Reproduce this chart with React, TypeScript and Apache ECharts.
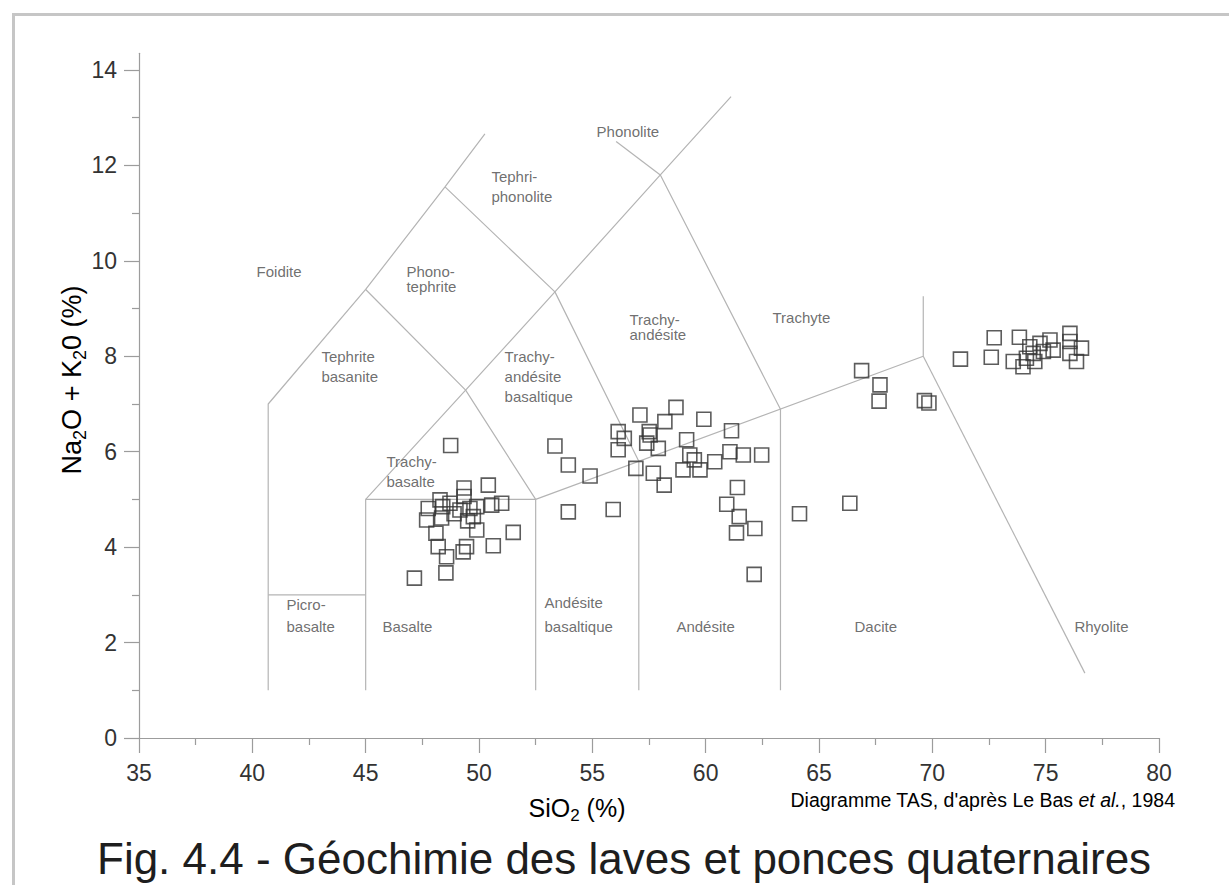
import React, { useEffect, useRef } from "react";
import * as echarts from "echarts";

const FONT = "'Liberation Sans', Arial, Helvetica, sans-serif";

// Axis ticks
const xMin = 35;
const xMax = 80;
const xInterval = 5;
const yMin = 0;
const yMax = 14.35;
const yMajorTicks = [0, 2, 4, 6, 8, 10, 12, 14];
const yMinorTicks = [1, 3, 5, 7, 9, 11, 13];

// Samples (SiO2 %, Na2O + K2O %)
const basaltSamples: [number, number][] = [
  [48.75, 6.13], [47.15, 3.35], [48.54, 3.46], [50.41, 5.3], [51.51, 4.31],
  [50.63, 4.03], [50.56, 4.88], [51.0, 4.92], [49.34, 5.24], [49.34, 5.06],
  [48.28, 4.99], [47.76, 4.81], [47.69, 4.57], [48.35, 4.61], [48.1, 4.29],
  [48.2, 4.01], [48.57, 3.8], [49.45, 4.01], [49.3, 3.9], [49.75, 4.64],
  [49.9, 4.36], [49.6, 4.81], [48.72, 4.92], [49.16, 4.78], [49.9, 4.85],
  [48.4, 4.85], [48.9, 4.7], [49.5, 4.55],
];
const andesiteSamples: [number, number][] = [
  [53.35, 6.12], [53.94, 5.72], [54.9, 5.49], [53.94, 4.74], [55.92, 4.79],
  [56.14, 6.42], [56.14, 6.04], [56.41, 6.28], [57.1, 6.77], [58.2, 6.63],
  [58.69, 6.93], [59.92, 6.68], [57.51, 6.42], [57.4, 6.18], [57.91, 6.07],
  [56.92, 5.65], [57.69, 5.55], [58.17, 5.3], [59.16, 6.25], [59.3, 5.93],
  [59.5, 5.83], [59.0, 5.62], [59.75, 5.62], [60.4, 5.79], [61.07, 6.0],
  [61.14, 6.44], [61.66, 5.93], [62.47, 5.93], [61.4, 5.25], [60.93, 4.9],
  [61.48, 4.64], [61.36, 4.3], [62.17, 4.39], [62.14, 3.43], [64.14, 4.7],
  [57.55, 6.35],
];
const daciteRhyoliteSamples: [number, number][] = [
  [66.36, 4.92], [66.88, 7.7], [67.69, 7.4], [67.65, 7.06], [69.65, 7.07],
  [69.85, 7.02], [71.24, 7.94], [72.6, 7.98], [72.73, 8.39], [73.57, 7.89],
  [73.84, 8.4], [74.0, 7.78], [74.3, 8.2], [74.45, 8.06], [74.75, 8.27],
  [74.9, 8.1], [75.19, 8.34], [75.33, 8.13], [76.07, 8.48], [76.07, 8.31],
  [76.07, 8.06], [76.58, 8.17], [76.36, 7.89], [74.15, 7.96], [74.52, 7.89],
];

// TAS field boundaries (as drawn in the figure)
const boundaryLines: [number, number][][] = [
  [[40.7, 1], [40.7, 7], [45, 9.4], [48.5, 11.55], [50.26, 12.66]],
  [[40.7, 3], [45, 3]],
  [[45, 1], [45, 5], [52.5, 5], [69.6, 8], [69.6, 9.26]],
  [[69.6, 8], [76.73, 1.36]],
  [[45, 5], [49.41, 7.29], [53.35, 9.35], [58, 11.8], [61.12, 13.44]],
  [[45, 9.4], [49.41, 7.29], [52.5, 5]],
  [[48.5, 11.55], [53.35, 9.35], [57.05, 5.8]],
  [[52.5, 1], [52.5, 5]],
  [[57.05, 1], [57.05, 5.8]],
  [[63.3, 1], [63.3, 6.89], [58, 11.8]],
  [[56.05, 12.5], [58, 11.8]],
];

// Field names: [text, SiO2, alkali, lineHeight]
const fieldLabels: [string, number, number, number][] = [
  ["Foidite", 40.21, 9.77, 15],
  ["Phono-\ntephrite", 46.82, 9.61, 15],
  ["Tephrite\nbasanite", 43.07, 7.78, 20],
  ["Trachy-\nandésite\nbasaltique", 51.15, 7.56, 20],
  ["Trachy-\nbasalte", 45.94, 5.57, 20],
  ["Tephri-\nphonolite", 50.57, 11.55, 20],
  ["Phonolite", 55.21, 12.7, 15],
  ["Trachy-\nandésite", 56.66, 8.6, 15],
  ["Trachyte", 62.97, 8.8, 15],
  ["Picro-\nbasalte", 41.53, 2.56, 22],
  ["Basalte", 45.76, 2.33, 15],
  ["Andésite\nbasaltique", 52.91, 2.58, 24],
  ["Andésite", 58.73, 2.33, 15],
  ["Dacite", 66.59, 2.33, 15],
  ["Rhyolite", 76.29, 2.33, 15],
];

const AXIS_COLOR = "#9c9c9c";
const LINE_COLOR = "#b4b4b4";
const TEXT_COLOR = "#333333";

export default function App() {
  const ref = useRef<HTMLDivElement>(null);

  useEffect(() => {
    if (!ref.current) return;
    const chart = echarts.init(ref.current, undefined, { renderer: "svg" });

    const squareStyle = {
      color: "rgba(0,0,0,0)",
      borderColor: "#333333",
      borderWidth: 1.6,
    };

    const boundarySeries = boundaryLines.map((pts) => ({
      type: "line",
      data: pts,
      symbol: "none",
      silent: true,
      lineStyle: { color: LINE_COLOR, width: 1.2 },
      z: 1,
    }));

    const sampleSeries = [basaltSamples, andesiteSamples, daciteRhyoliteSamples].map((d) => ({
      type: "scatter",
      data: d,
      symbol: "rect",
      symbolSize: 14,
      itemStyle: squareStyle,
      z: 3,
    }));

    const labelSeries = {
      type: "scatter",
      silent: true,
      symbolSize: 1,
      itemStyle: { color: "rgba(0,0,0,0)" },
      z: 2,
      data: fieldLabels.map(([name, x, y, lh]) => ({
        name,
        value: [x, y],
        label: { lineHeight: lh },
      })),
      label: {
        show: true,
        formatter: (p: any) => p.name,
        position: [0, 0],
        align: "left",
        verticalAlign: "middle",
        fontFamily: FONT,
        fontSize: 15,
        color: "#4a4a4a",
      },
    };

    const yRich = {
      a: { fontSize: 27, fontFamily: FONT, color: TEXT_COLOR, lineHeight: 34, verticalAlign: "middle" },
      s: { fontSize: 18, fontFamily: FONT, color: TEXT_COLOR, lineHeight: 34, verticalAlign: "bottom" },
    };
    const xRich = {
      a: { fontSize: 25, fontFamily: FONT, color: TEXT_COLOR, lineHeight: 32, verticalAlign: "middle" },
      s: { fontSize: 17, fontFamily: FONT, color: TEXT_COLOR, lineHeight: 32, verticalAlign: "bottom" },
    };

    chart.setOption({
      animation: false,
      backgroundColor: "#ffffff",
      grid: { left: 139, right: 70, top: 53.3, bottom: 147, containLabel: false, outerBoundsMode: "none" },
      xAxis: {
        type: "value",
        min: xMin,
        max: xMax,
        interval: xInterval,
        axisLine: { show: true, onZero: false, lineStyle: { color: AXIS_COLOR, width: 1.2 } },
        axisTick: { show: true, length: 15, lineStyle: { color: AXIS_COLOR, width: 1.2 } },
        minorTick: { show: true, splitNumber: 2, length: 7, lineStyle: { color: AXIS_COLOR, width: 1.2 } },
        splitLine: { show: false },
        minorSplitLine: { show: false },
        axisLabel: { fontFamily: FONT, fontSize: 23, color: TEXT_COLOR, margin: 23 },
      },
      yAxis: [
        {
          type: "value",
          min: yMin,
          max: yMax,
          position: "left",
          axisLine: { show: true, onZero: false, lineStyle: { color: AXIS_COLOR, width: 1.2 } },
          axisTick: { show: true, length: 15, customValues: yMajorTicks, lineStyle: { color: AXIS_COLOR, width: 1.2 } },
          splitLine: { show: false },
          axisLabel: { fontFamily: FONT, fontSize: 23, color: TEXT_COLOR, margin: 22, customValues: yMajorTicks },
        },
        {
          type: "value",
          min: yMin,
          max: yMax,
          position: "left",
          offset: 0,
          axisLine: { show: false },
          axisTick: { show: true, length: 7, customValues: yMinorTicks, lineStyle: { color: AXIS_COLOR, width: 1.2 } },
          splitLine: { show: false },
          axisLabel: { show: false },
        },
      ],
      series: [...boundarySeries, labelSeries, ...sampleSeries],
      graphic: [
        {
          type: "rect",
          silent: true,
          shape: { x: 13.5, y: 14.5, width: 1400, height: 1000 },
          style: { fill: "none", stroke: "#c6c6c6", lineWidth: 3 },
        },
        {
          type: "text",
          x: 72,
          y: 380,
          rotation: Math.PI / 2,
          style: {
            text: "{a|Na}{s|2}{a|O + K}{s|2}{a|0 (%)}",
            rich: yRich,
            align: "center",
            verticalAlign: "middle",
          },
        },
        {
          type: "text",
          x: 577,
          y: 808,
          style: {
            text: "{a|SiO}{s|2}{a| (%)}",
            rich: xRich,
            align: "center",
            verticalAlign: "middle",
          },
        },
        {
          type: "text",
          x: 1175,
          y: 800,
          style: {
            text: "{r|Diagramme TAS, d'après Le Bas }{i|et al.}{r|, 1984}",
            rich: {
              r: { fontSize: 19.5, fontFamily: FONT, color: "#666666" },
              i: { fontSize: 19.5, fontFamily: FONT, fontStyle: "italic", color: "#666666" },
            },
            align: "right",
            verticalAlign: "middle",
          },
        },
        {
          type: "text",
          x: 97,
          y: 858,
          style: {
            text: "Fig. 4.4 - Géochimie des laves et ponces quaternaires",
            fontSize: 44,
            fontFamily: FONT,
            fill: "#1e1e1e",
            align: "left",
            verticalAlign: "middle",
          },
        },
      ],
    });

    return () => chart.dispose();
  }, []);

  return (
    <div
      ref={ref}
      style={{ position: "absolute", left: 0, top: 0, width: 1229, height: 885, background: "#fff" }}
    />
  );
}
